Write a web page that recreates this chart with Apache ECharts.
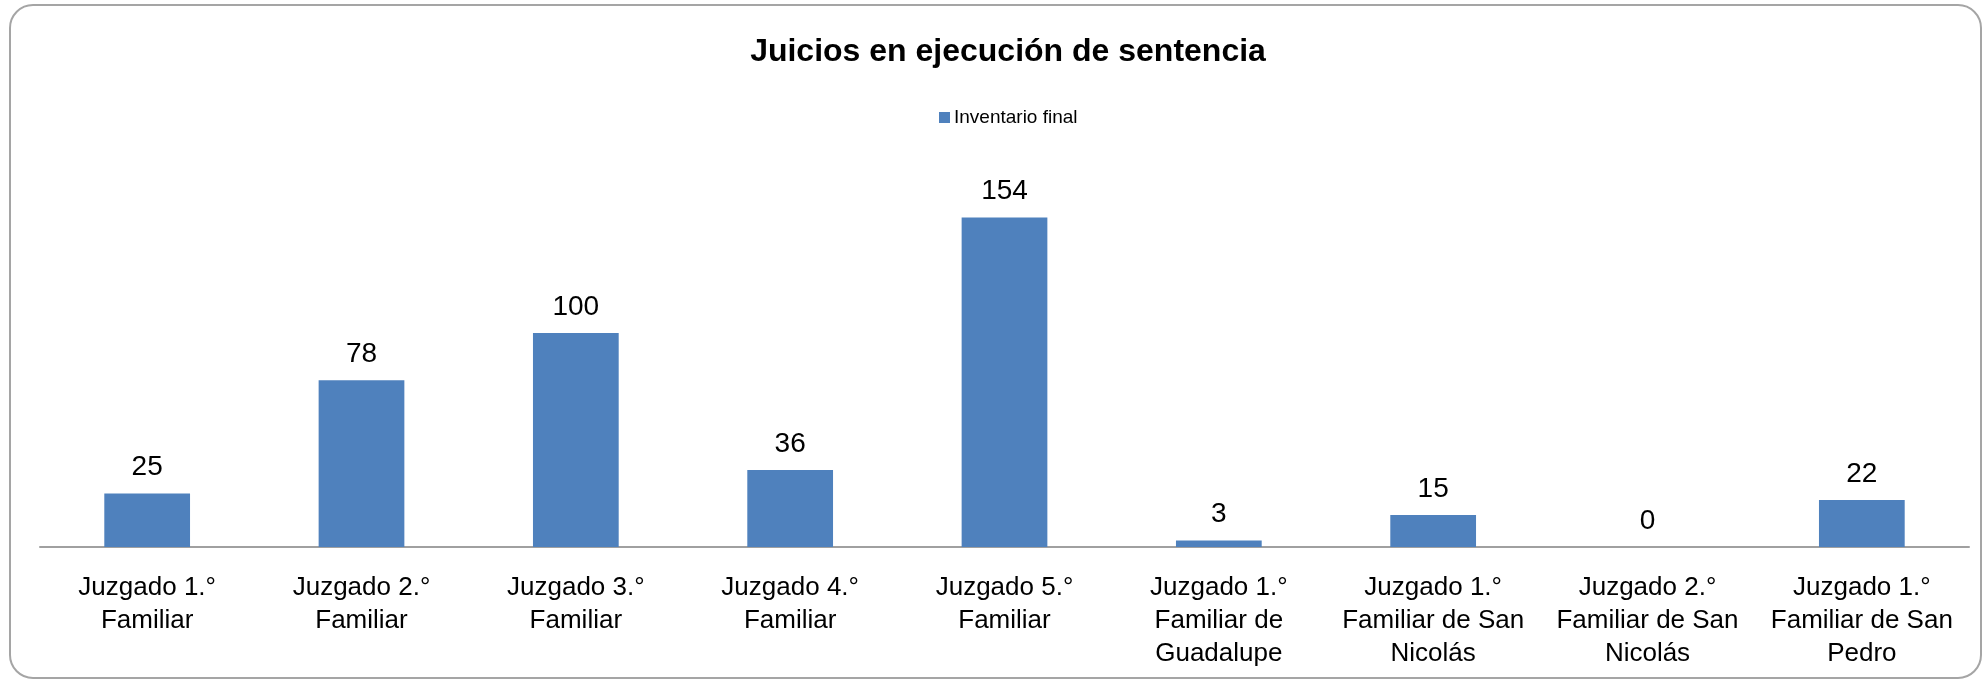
<!DOCTYPE html>
<html>
<head>
<meta charset="utf-8">
<script src="https://cdn.jsdelivr.net/npm/echarts@6/dist/echarts.min.js"></script>
<style>
html,body{margin:0;padding:0;background:#fff;}
#chart{width:1987px;height:681px;}
</style>
</head>
<body>
<div id="chart"></div>
<script>
const titleText = 'Juicios en ejecución de sentencia';
const seriesName = 'Inventario final';
const categories = [
  'Juzgado 1.°\nFamiliar',
  'Juzgado 2.°\nFamiliar',
  'Juzgado 3.°\nFamiliar',
  'Juzgado 4.°\nFamiliar',
  'Juzgado 5.°\nFamiliar',
  'Juzgado 1.°\nFamiliar de\nGuadalupe',
  'Juzgado 1.°\nFamiliar de San\nNicolás',
  'Juzgado 2.°\nFamiliar de San\nNicolás',
  'Juzgado 1.°\nFamiliar de San\nPedro'
];
const values = [25, 78, 100, 36, 154, 3, 15, 0, 22];

const FONT = "'Liberation Sans Narrow', 'Liberation Sans', sans-serif";
const chart = echarts.init(document.getElementById('chart'), null, {renderer: 'canvas'});
chart.setOption({
  backgroundColor: '#ffffff',
  animation: false,
  title: {
    text: titleText,
    left: 1003,
    top: 29,
    textAlign: 'center',
    textStyle: {fontFamily: FONT, fontSize: 32, fontWeight: 'bold', color: '#000', lineHeight: 36}
  },
  legend: {
    data: [seriesName],
    left: 934,
    top: 103,
    itemWidth: 11,
    itemHeight: 11,
    itemGap: 10,
    icon: 'rect',
    textStyle: {fontFamily: FONT, fontSize: 19, color: '#000', padding: [0, 0, 0, -1]}
  },
  grid: {left: 40, right: 18, top: 162, bottom: 134, containLabel: false},
  xAxis: {
    type: 'category',
    data: categories,
    axisLine: {show: true, lineStyle: {color: '#a0a0a0', width: 2}},
    axisTick: {show: false},
    axisLabel: {interval: 0, fontFamily: FONT, fontSize: 26, color: '#000', lineHeight: 33, margin: 24}
  },
  yAxis: {
    type: 'value',
    min: 0,
    max: 180,
    interval: 20,
    show: false,
    splitLine: {show: false}
  },
  series: [{
    name: seriesName,
    type: 'bar',
    data: values,
    barCategoryGap: '60%',
    itemStyle: {color: '#4F81BD'},
    label: {show: true, position: 'top', distance: 12, fontFamily: FONT, fontSize: 28, color: '#000'}
  }],
  graphic: [{
    type: 'rect',
    silent: true,
    z: -1,
    shape: {x: 10, y: 5, width: 1971, height: 673, r: 23},
    style: {fill: 'none', stroke: '#a5a5a5', lineWidth: 2}
  }]
});
</script>
</body>
</html>
